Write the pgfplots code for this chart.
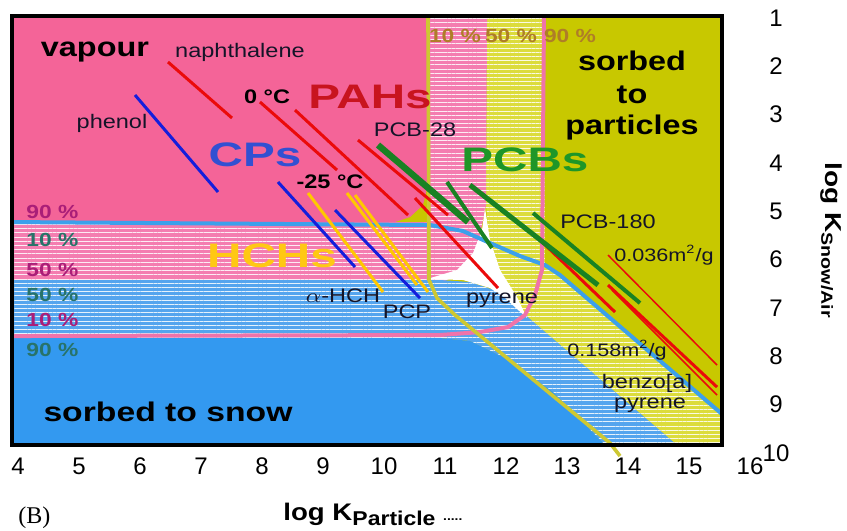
\documentclass[border=0pt]{standalone}
\usepackage{pgfplots}
\pgfplotsset{compat=1.18}
\usepackage{fontspec}
\setmainfont{Liberation Sans}
\newfontfamily\serifB{Liberation Serif}
\usetikzlibrary{patterns.meta}

\definecolor{pinkA}{RGB}{244,100,152}
\definecolor{pinkS}{RGB}{244,125,176}
\definecolor{blueA}{RGB}{51,153,240}
\definecolor{blueS}{RGB}{85,165,238}
\definecolor{oliveB}{RGB}{200,200,0}
\definecolor{yelS}{RGB}{220,220,60}
\definecolor{yline}{RGB}{205,200,50}
\definecolor{pline}{RGB}{240,115,170}
\definecolor{bline}{RGB}{60,160,235}
\definecolor{redL}{RGB}{235,10,10}
\definecolor{greenL}{RGB}{25,130,35}
\definecolor{blueL}{RGB}{20,30,220}
\definecolor{yelL}{RGB}{255,200,0}
\definecolor{tPAH}{RGB}{200,20,30}
\definecolor{tCP}{RGB}{50,80,210}
\definecolor{tPCB}{RGB}{30,150,40}
\definecolor{tHCH}{RGB}{255,200,20}
\definecolor{tMag}{RGB}{170,30,120}
\definecolor{tTeal}{RGB}{40,115,105}
\definecolor{tTop}{RGB}{175,125,40}
\definecolor{tDark}{RGB}{20,20,40}

\begin{document}
\begin{tikzpicture}[
  sm/.style={font=\fontsize{9.8}{11}\selectfont, xscale=1.2, inner sep=0pt, text=tDark},
  smb/.style={font=\fontsize{9.8}{11}\selectfont\bfseries, xscale=1.2, inner sep=0pt, text=black},
  pc/.style={font=\fontsize{9.5}{11}\selectfont\bfseries, xscale=1.2, inner sep=0pt, anchor=west},
  big/.style={font=\fontsize{17}{20}\selectfont\bfseries, xscale=1.4, inner sep=0pt},
  lab/.style={font=\fontsize{13.5}{15}\selectfont\bfseries, xscale=1.2, inner sep=0pt, text=black},
  stripes/.style={postaction={pattern={Lines[angle=0,distance=2.1pt,line width=0.35pt]}, pattern color=white!85!#1}}
]
\begin{axis}[
  scale only axis, width=370.6pt, height=219.8pt,
  xmin=3.85, xmax=16, ymin=0.9, ymax=10, y dir=reverse,
  axis line style={draw=none}, major tick length=0pt,
  xtick={4,...,16}, ytick={1,...,10},
  xtick pos=bottom, ytick pos=right, yticklabel pos=right,
  tick label style={font=\fontsize{12}{14}\selectfont},
  xticklabel style={yshift=1pt},
  yticklabel style={anchor=center, xshift=13pt},
  /pgf/number format/assume math mode=true,
  clip=false,
]
% background (sorbed to particles)
\addplot[fill=oliveB, draw=none] coordinates {(3.902,0.959)(15.541,0.959)(15.541,9.841)(3.902,9.841)} -- cycle;
% yellow striped band
\addplot[fill=yelS, draw=none, stripes=yelS] coordinates {(11.689,0.959)(12.639,0.959)(12.639,6.114)(12.885,6.321)(15.541,9.199)(15.541,9.841)(14.803,9.841)(12.279,7.108)(11.984,6.631)(11.738,5.803)(11.672,4.872)} -- cycle;
% pink striped band
\addplot[fill=pinkS, draw=none, stripes=pinkS] coordinates {(3.902,5.224)(3.902,6.445)(11.0,6.445)(11.328,6.217)(11.541,5.700)(11.672,4.872)(11.689,0.959)(10.738,0.959)(10.738,5.224)} -- cycle;
% vapour
\addplot[fill=pinkA, draw=none] coordinates {(3.902,0.959)(10.721,0.959)(10.721,4.458)(10.639,4.872)(10.426,5.120)(10.180,5.224)(3.902,5.224)} -- cycle;
% blue striped band
\addplot[fill=blueS, draw=none, stripes=blueS] coordinates {(3.902,6.424)(10.918,6.424)(11.410,6.466)(11.902,6.673)(12.279,7.108)(14.803,9.841)(13.623,9.841)(12.770,8.743)(11.951,8.019)(11.410,7.687)(10.918,7.625)(3.902,7.625)} -- cycle;
% sorbed to snow
\addplot[fill=blueA, draw=none] coordinates {(3.902,7.625)(10.918,7.625)(11.410,7.687)(11.951,8.019)(12.770,8.743)(13.623,9.841)(3.902,9.841)} -- cycle;
% white centre
\addplot[fill=white, draw=none] coordinates {(11.656,4.934)(11.738,5.596)(11.902,6.217)(12.180,6.776)(12.344,7.211)(11.984,6.797)(11.738,6.590)(11.295,6.424)(10.705,6.404)(11.197,6.217)(11.459,5.865)(11.607,5.389)} -- cycle;
% boundary lines
\addplot[bline, line width=2pt] coordinates {(3.902,5.224)(10.754,5.286)(11.295,5.410)(11.738,5.658)(12.230,5.928)(12.639,6.114)(12.885,6.321)(15.541,9.199)};
\addplot[pline, line width=2pt] coordinates {(3.902,7.584)(10.918,7.563)(11.574,7.501)(12.033,7.398)(12.311,7.149)(12.475,6.735)(12.590,6.217)(12.623,0.959)};
\addplot[yline, line width=1.8pt] coordinates {(10.721,0.959)(10.738,6.424)(10.869,6.797)(11.164,7.149)(13.705,9.799)(13.869,10.068)};
% PAHs (red)
\addplot[redL, line width=1.5pt] coordinates {(6.459,1.911)(7.508,3.070)};
\addplot[redL, line width=1.5pt] coordinates {(7.967,2.739)(9.230,4.147)};
\addplot[redL, line width=1.5pt] coordinates {(8.541,2.905)(10.393,5.079)};
\addplot[redL, line width=1.5pt] coordinates {(9.574,3.526)(11.049,5.079)};
\addplot[redL, line width=1.5pt] coordinates {(10.508,4.727)(11.869,6.590)};
\addplot[redL, line width=1.5pt] coordinates {(12.557,5.596)(13.787,7.087)};
\addplot[redL, line width=0.75pt] coordinates {(13.672,5.907)(15.459,8.184)};
\addplot[redL, line width=1.5pt] coordinates {(13.672,6.528)(15.459,8.640)};
\addplot[redL, line width=0.75pt] coordinates {(13.738,6.631)(15.459,8.805)};
% PCBs (green)
\addplot[greenL, line width=3.2pt] coordinates {(9.902,3.629)(11.377,5.224)};
\addplot[greenL, line width=2pt] coordinates {(11.033,4.395)(11.770,5.762)};
\addplot[greenL, line width=2.5pt] coordinates {(11.410,4.458)(13.508,6.528)};
\addplot[greenL, line width=2pt] coordinates {(12.443,5.037)(14.197,6.901)};
% CPs (blue)
\addplot[blueL, line width=1.5pt] coordinates {(5.918,2.594)(7.279,4.602)};
\addplot[blueL, line width=1.5pt] coordinates {(8.262,4.395)(9.525,6.155)};
\addplot[blueL, line width=1.5pt] coordinates {(9.197,4.975)(10.590,6.797)};
% HCHs (yellow)
\addplot[yelL, line width=1.5pt] coordinates {(8.754,4.623)(9.984,6.673)};
\addplot[yelL, line width=1.5pt] coordinates {(9.393,4.623)(10.541,6.528)};
\addplot[yelL, line width=1.5pt] coordinates {(9.525,4.665)(10.721,6.673)};
% frame
\addplot[black, line width=2pt] coordinates {(3.902,0.959)(15.541,0.959)(15.541,9.841)(3.902,9.841)} -- cycle;

% labels
\node[lab] at (axis cs:5.262,1.704) {vapour};
\node[sm] at (axis cs:7.639,1.704) {naphthalene};
\node[sm] at (axis cs:5.541,3.174) {phenol};
\node[smb] at (axis cs:8.082,2.636) {0 °C};
\node[big, text=tPAH] at (axis cs:9.770,2.636) {PAHs};
\node[big, text=tCP] at (axis cs:7.885,3.836) {CPs};
\node[sm] at (axis cs:10.508,3.319) {PCB-28};
\node[big, text=tPCB] at (axis cs:12.311,3.940) {PCBs};
\node[smb] at (axis cs:9.115,4.395) {-25 °C};
\node[big, text=tHCH] at (axis cs:8.164,5.928) {HCHs};
\node[sm] at (axis cs:9.328,6.756) {$\alpha$-HCH};
\node[sm] at (axis cs:10.377,7.087) {PCP};
\node[sm] at (axis cs:11.934,6.839) {pyrene};
\node[sm] at (axis cs:13.672,5.224) {PCB-180};
\node[sm, font=\fontsize{9}{10}\selectfont] at (axis cs:14.590,5.907) {0.036m\textsuperscript{2}/g};
\node[sm, font=\fontsize{9}{10}\selectfont] at (axis cs:13.820,7.874) {0.158m\textsuperscript{2}/g};
\node[sm] at (axis cs:14.311,8.557) {benzo[a]};
\node[sm] at (axis cs:14.361,9.012) {pyrene};
\node[lab, xscale=1.04] at (axis cs:6.459,9.157) {sorbed to snow};
\node[lab] at (axis cs:14.066,1.890) {sorbed};
\node[lab] at (axis cs:14.066,2.594) {to};
\node[lab] at (axis cs:14.066,3.257) {particles};
\node[pc, anchor=center, text=tTop] at (axis cs:11.164,1.373) {10 \%};
\node[pc, anchor=center, text=tTop] at (axis cs:12.082,1.373) {50 \%};
\node[pc, anchor=center, text=tTop] at (axis cs:13.049,1.373) {90 \%};
\node[pc, text=tMag] at (axis cs:4.131,5.017) {90 \%};
\node[pc, text=tTeal] at (axis cs:4.131,5.596) {10 \%};
\node[pc, text=tMag] at (axis cs:4.131,6.217) {50 \%};
\node[pc, text=tTeal] at (axis cs:4.131,6.735) {50 \%};
\node[pc, text=tMag] at (axis cs:4.131,7.253) {10 \%};
\node[pc, text=tTeal] at (axis cs:4.131,7.874) {90 \%};
% axis titles
\node[anchor=base west, inner sep=0pt, xscale=1.15, font=\fontsize{12}{14}\selectfont\bfseries] at (axis cs:8.344,11.393) {log K\raisebox{-0.45ex}{\fontsize{10}{12}\selectfont Particle} {\fontsize{6}{7}\selectfont .....}};
\node[anchor=base west, inner sep=0pt, font=\fontsize{12}{14}\serifB] at (axis cs:4.0,11.456) {(B)};
\node[rotate=-90, xscale=1.22, anchor=base west, inner sep=0pt, font=\fontsize{11.5}{13}\selectfont\bfseries] at (axis cs:17.23,3.981) {log K\textsubscript{Snow/Air}};
\coordinate (bbA) at (axis cs:3.705,0.627);
\coordinate (bbB) at (axis cs:17.59,11.62);
\end{axis}
\pgfresetboundingbox
\path[use as bounding box] (bbA) rectangle (bbB);
\end{tikzpicture}
\end{document}
